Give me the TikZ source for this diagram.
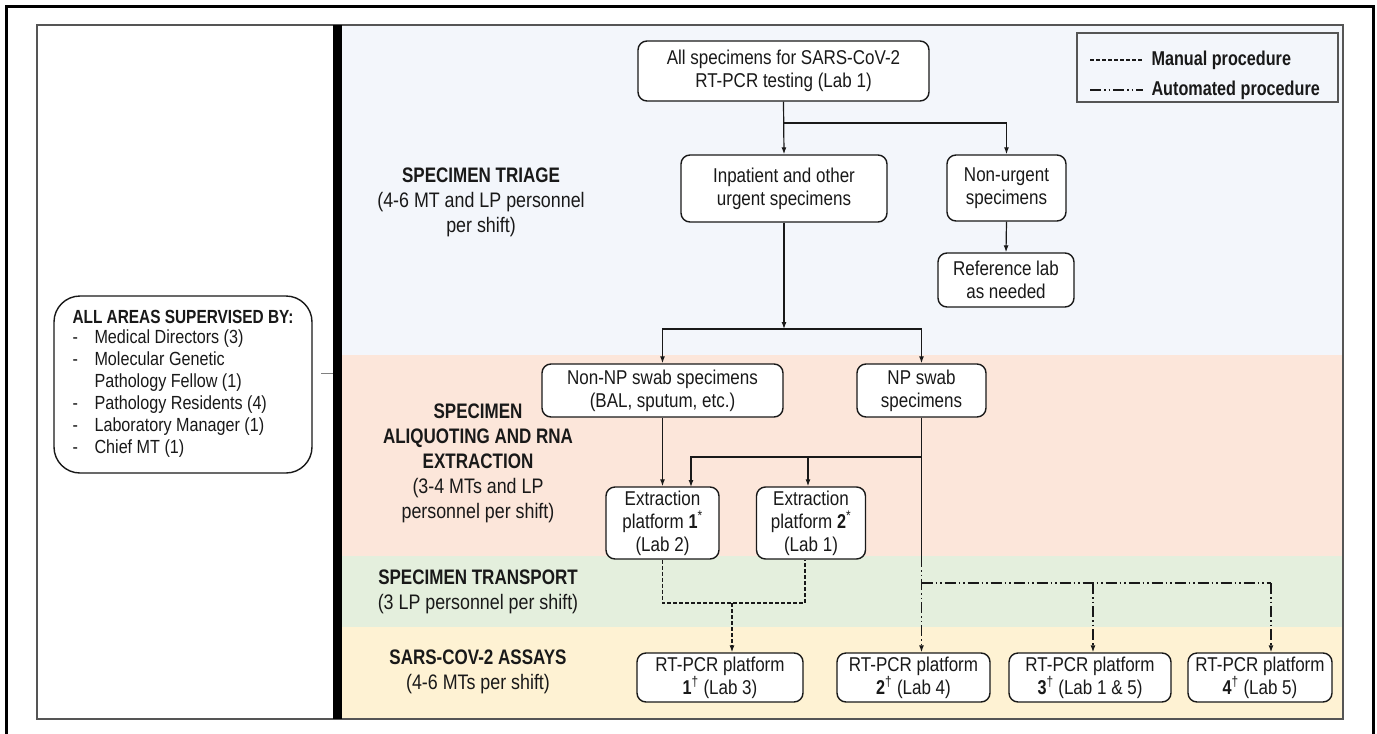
\documentclass[tikz,border=0pt]{standalone}
\usepackage{fontspec}
\setmainfont{Liberation Sans}[UprightFeatures={FakeStretch=0.85},BoldFeatures={FakeStretch=0.81}]
\usetikzlibrary{arrows.meta}
\definecolor{bandblue}{RGB}{243,246,251}
\definecolor{bandpeach}{RGB}{252,230,218}
\definecolor{bandgreen}{RGB}{228,239,221}
\definecolor{bandyellow}{RGB}{254,242,211}
\definecolor{panelgray}{RGB}{85,85,85}
\definecolor{inkc}{RGB}{25,25,25}
\tikzset{
  box/.style={draw=inkc, line width=1.4pt, rounded corners=9pt, fill=white, align=center,
    inner sep=0pt, text=inkc, font=\fontsize{20}{23}\selectfont},
  bandlabel/.style={align=center, text=inkc, font=\fontsize{21}{25}\selectfont},
  conn/.style={draw=inkc, line width=1.2pt},
  arr/.style={conn, -{Latex[length=7pt,width=5pt]}},
  manual/.style={conn, dash pattern=on 4pt off 2pt},
  autop/.style={conn, dash pattern=on 11pt off 3pt on 1.5pt off 3pt on 1.5pt off 3pt},
  legtext/.style={anchor=west, text=inkc, font=\fontsize{20}{23}\selectfont\bfseries},
}
\begin{document}
\begin{tikzpicture}[x=1pt,y=-1pt]
\useasboundingbox (0,0) rectangle (1377,734);
% bands
\fill[bandblue] (342,25) rectangle (1343,355);
\fill[bandpeach] (342,355) rectangle (1343,556);
\fill[bandgreen] (342,556) rectangle (1343,627);
\fill[bandyellow] (342,627) rectangle (1343,719);
\draw[panelgray, line width=1.8pt] (37,25) rectangle (1343,719);
\node[fill=black, draw=none, inner sep=0pt, minimum width=9pt, minimum height=694pt] (bar) at (337.5,372) {};
% outer frame
\draw[black, line width=3pt] (6,736) -- (6,6) -- (1373,6) -- (1373,736);

% legend
\node[draw=panelgray, line width=1.6pt, minimum width=261pt, minimum height=69pt, inner sep=0pt] (legend) at (1207.5,67.5) {};
\coordinate (lm1) at (1090,60); \coordinate (lm2) at (1143,60);
\coordinate (la1) at (1090,90); \coordinate (la2) at (1143,90);
\draw[manual] (lm1) -- (lm2);
\draw[autop] (la1) -- (la2);
\node[legtext] (lmt) at (1148,60) {Manual procedure};
\node[legtext] (lat) at (1148,90) {Automated procedure};

% supervised box
\node[draw=inkc, line width=1.4pt, rounded corners=26pt, fill=white, minimum width=258pt, minimum height=177pt,
  inner sep=0pt, text=inkc, font=\fontsize{19}{22}\selectfont] (sup) at (183,384.5)
  {\begin{tabular}{@{}p{22pt}@{}l@{}}
   \multicolumn{2}{@{}l@{}}{\bfseries ALL AREAS SUPERVISED BY:}\\[-2pt]
   -& Medical Directors (3)\\
   -& Molecular Genetic\\
    & Pathology Fellow (1)\\
   -& Pathology Residents (4)\\
   -& Laboratory Manager (1)\\
   -& Chief MT (1)
  \end{tabular}};
\coordinate (tick) at (321,373);
\draw[gray, line width=1pt] (tick) -- (bar.west |- tick);

% band labels
\node[bandlabel] (lbtriage) at (481,202) {\textbf{SPECIMEN TRIAGE}\\(4-6 MT and LP personnel\\per shift)};
\node[bandlabel] (lbaliq) at (478,463) {\textbf{SPECIMEN}\\\textbf{ALIQUOTING AND RNA}\\\textbf{EXTRACTION}\\(3-4 MTs and LP\\personnel per shift)};
\node[bandlabel] (lbtrans) at (478,592) {\textbf{SPECIMEN TRANSPORT}\\(3 LP personnel per shift)};
\node[bandlabel] (lbassay) at (478,672) {\textbf{SARS-COV-2 ASSAYS}\\(4-6 MTs per shift)};

% flow boxes
\node[box, minimum width=291pt, minimum height=60pt] (allspec) at (783.5,71) {All specimens for SARS-CoV-2\\RT-PCR testing (Lab 1)};
\node[box, minimum width=206pt, minimum height=67pt] (inpat) at (784,188.5) {Inpatient and other\\urgent specimens};
\node[box, minimum width=119pt, minimum height=66pt] (nonurg) at (1006.5,188) {Non-urgent\\specimens};
\node[box, minimum width=136pt, minimum height=54pt] (reflab) at (1006,280) {Reference lab\\as needed};
\node[box, minimum width=241pt, minimum height=53pt] (nonnp) at (662.5,390.5) {Non-NP swab specimens\\(BAL, sputum, etc.)};
\node[box, minimum width=129pt, minimum height=53pt] (np) at (921.5,390.5) {NP swab\\specimens};
\node[box, minimum width=113pt, minimum height=72pt] (ext1) at (662.5,523) {Extraction\\platform \textbf{1}\textsuperscript{*}\\(Lab 2)};
\node[box, minimum width=109pt, minimum height=72pt] (ext2) at (811,523) {Extraction\\platform \textbf{2}\textsuperscript{*}\\(Lab 1)};
\node[box, minimum width=166pt, minimum height=49pt] (rt1) at (720,677.5) {RT-PCR platform\\\textbf{1}\textsuperscript{†} (Lab 3)};
\node[box, minimum width=153pt, minimum height=49pt] (rt2) at (913.5,677.5) {RT-PCR platform\\\textbf{2}\textsuperscript{†} (Lab 4)};
\node[box, minimum width=162pt, minimum height=49pt] (rt3) at (1090,677.5) {RT-PCR platform\\\textbf{3}\textsuperscript{†} (Lab 1 \& 5)};
\node[box, minimum width=144pt, minimum height=49pt] (rt4) at (1260,677.5) {RT-PCR platform\\\textbf{4}\textsuperscript{†} (Lab 5)};

% triage connectors
\coordinate (j1) at (784,123);
\draw[arr] (allspec.south) -- (inpat.north);
\draw[arr] (j1) -| (nonurg.north);
\draw[arr] (nonurg.south) -- (reflab.north);
\coordinate (j2) at (784,329);
\draw[arr] (inpat.south) -- (j2);
\draw[arr] (j2) -| (nonnp.north);
\draw[arr] (j2) -| (np.north);

% extraction connectors
\draw[arr] (nonnp.south) -- (ext1.north);
\coordinate (j3) at (921.5,457);
\coordinate (e1in) at (691,487);
\draw[arr] (j3) -| (e1in);
\coordinate (j3b) at (808,457);
\draw[arr] (j3b) -- (ext2.north -| j3b);
\coordinate (npx) at (921.5,556);
\draw[conn] (np.south) -- (npx);

% manual transport
\coordinate (mj) at (732,603);
\coordinate (m2) at (805,603);
\draw[manual] (ext1.south) |- (mj) -- (m2) -- (ext2.south -| m2);
\draw[manual, -{Latex[length=7pt,width=5pt]}] (mj) -- (rt1.north -| mj);

% automated transport
\coordinate (aj) at (921.5,583);
\coordinate (a3) at (1093,583);
\coordinate (a4) at (1271,583);
\draw[autop, -{Latex[length=7pt,width=5pt]}] (npx) -- (rt2.north -| npx);
\draw[autop] (aj) -- (a4);
\draw[autop, -{Latex[length=7pt,width=5pt]}] (a3) -- (rt3.north -| a3);
\draw[autop, -{Latex[length=7pt,width=5pt]}] (a4) -- (rt4.north -| a4);
\end{tikzpicture}
\end{document}
